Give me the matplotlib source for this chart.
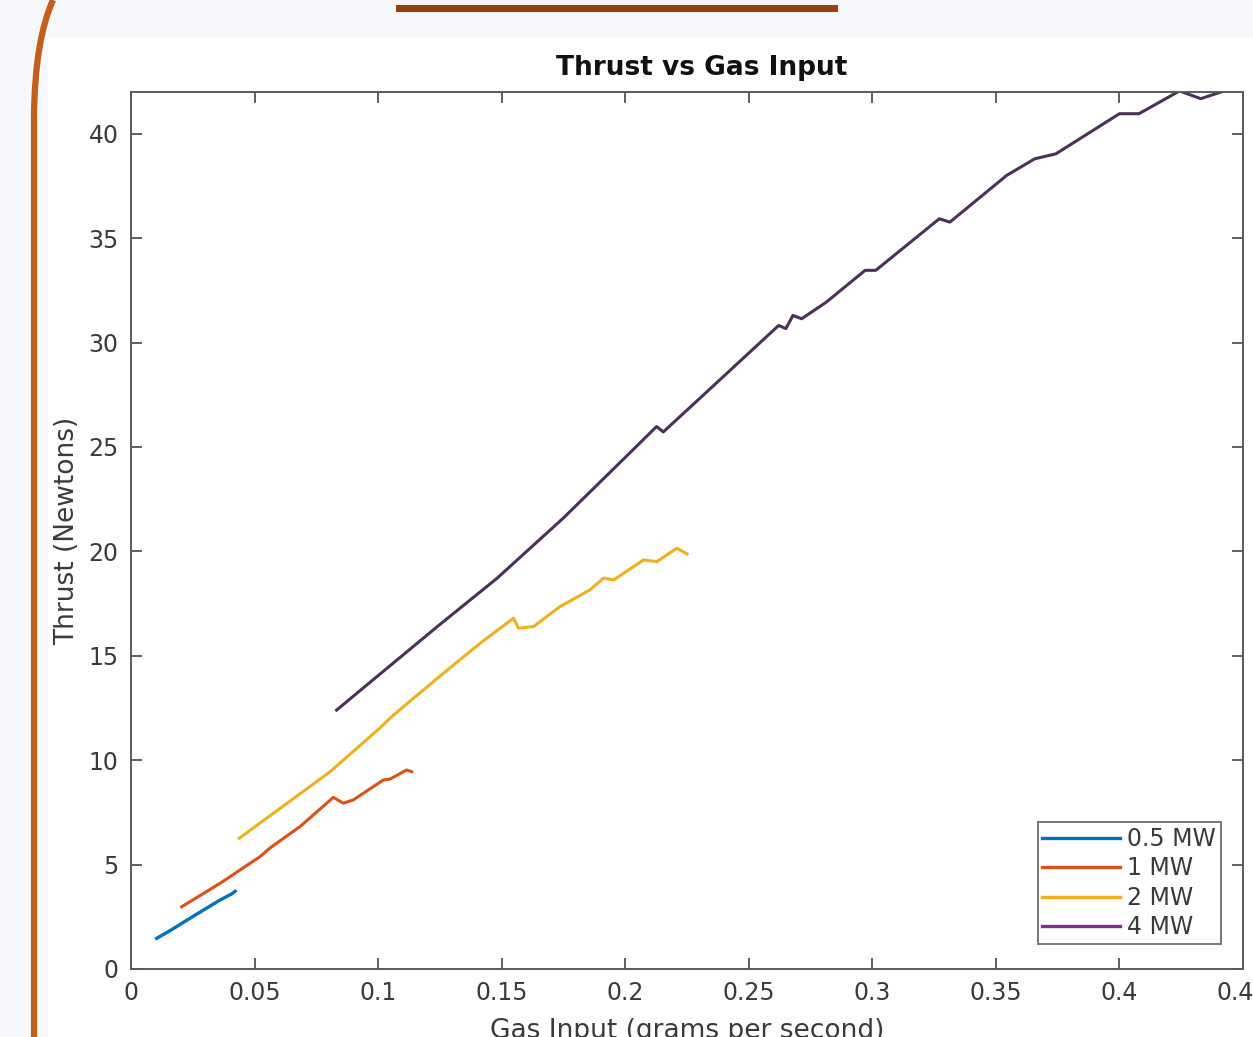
import matplotlib
matplotlib.use("Agg")
import matplotlib.pyplot as plt
from matplotlib.patches import Rectangle, PathPatch
from matplotlib.path import Path
from matplotlib.lines import Line2D

# data
x_05 = [0.0104, 0.016, 0.0225, 0.029, 0.036, 0.0408, 0.0421]
y_05 = [1.47, 1.85, 2.33, 2.8, 3.3, 3.6, 3.72]

x_1 = [0.0205, 0.036, 0.0522, 0.0563, 0.0684, 0.0819, 0.0859, 0.09, 0.1021, 0.1049, 0.1115, 0.1136]
y_1 = [2.98, 4.1, 5.38, 5.8, 6.82, 8.22, 7.94, 8.1, 9.05, 9.1, 9.53, 9.45]

x_2 = [0.0438, 0.0806, 0.1008, 0.1055, 0.1265, 0.1413, 0.1548, 0.1568, 0.1629, 0.1737,
       0.1858, 0.1912, 0.1953, 0.2074, 0.2128, 0.2209, 0.225]
y_2 = [6.26, 9.45, 11.55, 12.09, 14.17, 15.6, 16.8, 16.32, 16.4, 17.36,
       18.16, 18.72, 18.63, 19.59, 19.51, 20.15, 19.88]

x_4 = [0.0832, 0.1, 0.125, 0.148, 0.175, 0.2, 0.2127, 0.2154, 0.23, 0.2621, 0.265,
       0.2679, 0.2714, 0.2814, 0.2971, 0.3014, 0.3271, 0.3314, 0.3543, 0.3657, 0.3743,
       0.40, 0.4079, 0.4243, 0.4329, 0.4429, 0.4495]
y_4 = [12.4, 14.05, 16.5, 18.7, 21.6, 24.5, 25.98, 25.72, 27.31, 30.82, 30.67,
       31.3, 31.14, 31.94, 33.46, 33.46, 35.93, 35.77, 38.0, 38.8, 39.04,
       40.96, 40.96, 42.05, 41.68, 42.07, 42.25]

labels = ["0.5 MW", "1 MW", "2 MW", "4 MW"]
colors = ["#0072BD", "#D95319", "#EDB120", "#7E2F8E"]

xticks = [0, 0.05, 0.1, 0.15, 0.2, 0.25, 0.3, 0.35, 0.4, 0.45]
xtick_labels = ["0", "0.05", "0.1", "0.15", "0.2", "0.25", "0.3", "0.35", "0.4", "0.45"]
yticks = [0, 5, 10, 15, 20, 25, 30, 35, 40]

W, H = 1253, 1037
fig = plt.figure(figsize=(W / 100, H / 100), dpi=100, facecolor="#f7f8fc")

# white figure area + page decorations
fig.patches.append(Rectangle((48 / W, 0), (W - 48) / W, (H - 38) / H, transform=fig.transFigure,
                             facecolor="white", edgecolor="none", zorder=-2))
fig.patches.append(Rectangle((396 / W, 1 - 12 / H), 442 / W, 7 / H, transform=fig.transFigure,
                             facecolor="#9a4009", edgecolor="none", zorder=-1))
curve = Path([(53 / W, 1.0), (35 / W, 1 - 40 / H), (34 / W, 1 - 115 / H), (34 / W, 0.0)],
             [Path.MOVETO, Path.CURVE3, Path.CURVE3, Path.LINETO])
fig.patches.append(PathPatch(curve, transform=fig.transFigure, facecolor="none",
                             edgecolor="#c0601c", lw=4.5, zorder=-1))

ax = fig.add_axes([131 / W, (H - 969) / H, 1112 / W, 877 / H])

ax.plot(x_05, y_05, color=colors[0], lw=2.4)
ax.plot(x_1, y_1, color=colors[1], lw=2.2)
ax.plot(x_2, y_2, color=colors[2], lw=2.2)
ax.plot(x_4, y_4, color="#4b3157", lw=2.2)

ax.set_xlim(0, 0.45)
ax.set_ylim(0, 42)
ax.set_xticks(xticks)
ax.set_xticklabels(xtick_labels)
ax.set_yticks(yticks)
ax.tick_params(direction="in", length=8, width=1.2, top=True, right=True,
               labelsize=17, labelcolor="#3a3a3a", color="#444444", pad=9)
for s in ax.spines.values():
    s.set_color("#5a5a5a")
    s.set_linewidth(1.4)

ax.set_title("Thrust vs Gas Input", fontsize=19, fontweight="bold", x=0.513, pad=12, color="#111111")
ax.set_xlabel("Gas Input (grams per second)", fontsize=19, color="#3a3a3a", labelpad=9)
ax.set_ylabel("Thrust (Newtons)", fontsize=19, color="#3a3a3a", labelpad=6)

handles = [Line2D([], [], color=c, lw=2.4) for c in colors]
leg = ax.legend(handles, labels, loc="lower right", bbox_to_anchor=(0.9802, 0.0285),
                fontsize=17, frameon=True, fancybox=False, borderpad=0.2, labelspacing=0.23,
                handlelength=3.3, handletextpad=0.3, borderaxespad=0)
leg.get_frame().set_edgecolor("#555555")
leg.get_frame().set_linewidth(1.4)
for t in leg.get_texts():
    t.set_color("#3a3a3a")

fig.savefig("out.png", dpi=100, facecolor=fig.get_facecolor())
